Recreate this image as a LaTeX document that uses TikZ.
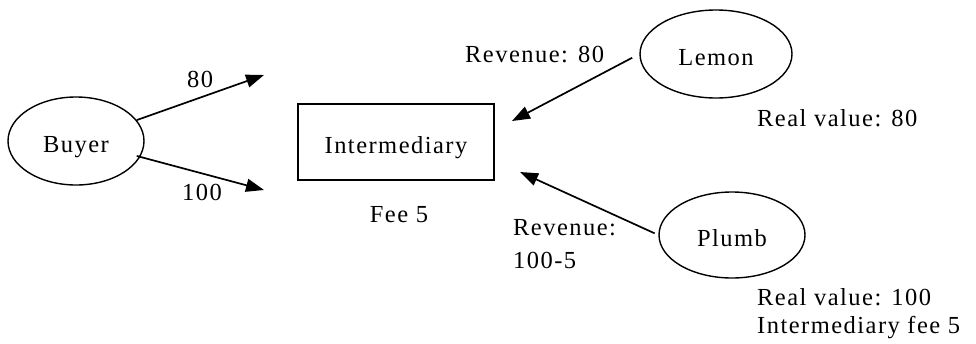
\documentclass[tikz,border=0pt]{standalone}
\usepackage{fontspec}
\setmainfont{Liberation Serif}[LetterSpace=6]
\usetikzlibrary{shapes.geometric,arrows.meta}
\begin{document}
\begin{tikzpicture}[x=1pt,y=-1pt,
  every node/.style={font=\fontsize{24.5}{28}\selectfont, inner sep=0pt},
  oval/.style={ellipse, draw, line width=1.4pt},
  arr/.style={line width=1.7pt, -{Triangle[length=18pt,width=13pt]}},
  lbl/.style={anchor=base west}]
\useasboundingbox (0,0) rectangle (976,343);
\node[oval, minimum width=136pt, minimum height=88pt] (buyer) at (76,141) {};
\node[anchor=base] (buyert) at (76,152) {Buyer};
\node[draw, line width=1.4pt, minimum width=196pt, minimum height=76pt] (inter) at (396,142) {};
\node[anchor=base] (intert) at (396,153) {Intermediary};
\node[anchor=base] (fee) at (399,222) {Fee 5};
\node[oval, minimum width=152pt, minimum height=88pt] (lemon) at (716,54) {};
\node[anchor=base] (lemont) at (716,65) {Lemon};
\node[oval, minimum width=146pt, minimum height=86pt] (plumb) at (732,235) {};
\node[anchor=base] (plumbt) at (732,246) {Plumb};
\coordinate (t80) at (264,75);
\coordinate (t100) at (264,190);
\coordinate (tl) at (512,121);
\coordinate (tp) at (520,172);
\draw[arr] (buyer.19) -- (t80);
\draw[arr] ([xshift=-4pt]buyer.-13) -- (t100);
\draw[arr, shorten <=8pt] (lemon.west) -- (tl);
\draw[arr, shorten <=4pt] (plumb.west) -- (tp);
\node[lbl] (l80) at (187,87) {80};
\node[lbl] (l100) at (182,200) {100};
\node[lbl] (rev80) at (465,62) {Revenue: 80};
\node[lbl] (rv80) at (757,126) {Real value: 80};
\node[lbl] (rev1) at (513,235) {Revenue:};
\node[lbl] (rev2) at (513,268) {100-5};
\node[lbl] (rv100) at (757,305) {Real value: 100};
\node[lbl] (ifee) at (757,333) {Intermediary fee 5};
\end{tikzpicture}
\end{document}
